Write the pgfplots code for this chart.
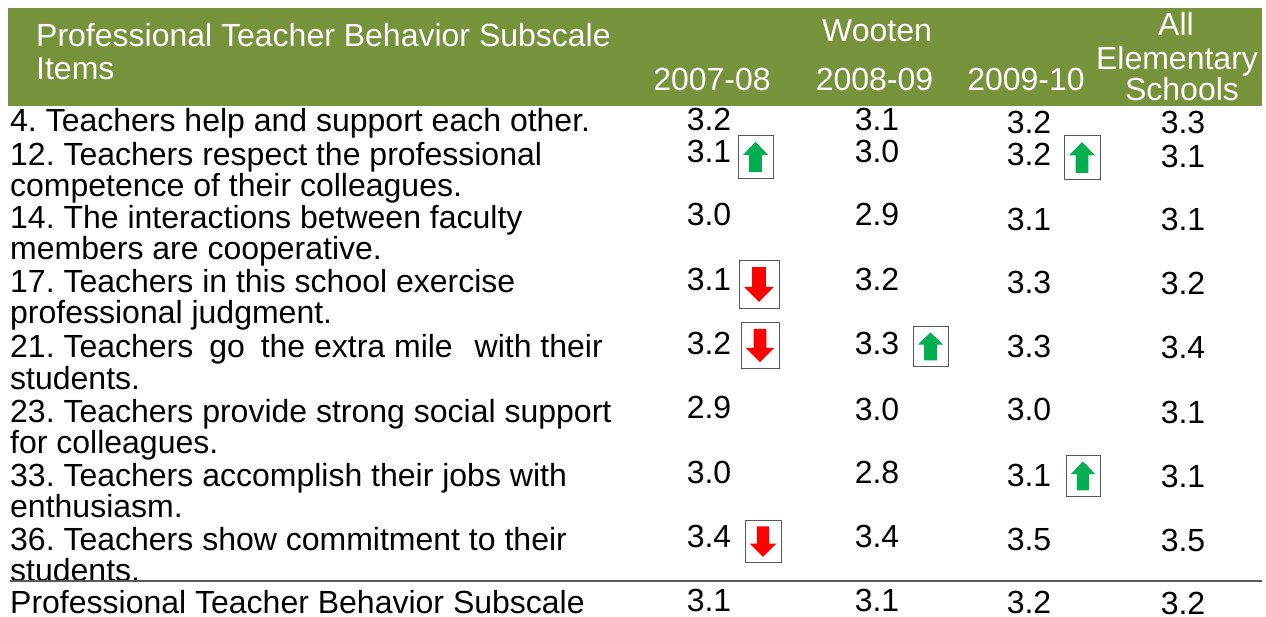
\documentclass[border=0pt]{standalone}
\usepackage{fontspec}
\setmainfont{Liberation Sans}
\usepackage{pgfplots}
\usepackage{pgfplotstable}
\pgfplotsset{compat=1.18}
\definecolor{headgreen}{HTML}{76933C}
\definecolor{upgreen}{HTML}{00B050}
\definecolor{boxgray}{HTML}{595959}
\frenchspacing

% boxed arrows, unit box, scaled with mark options
\pgfdeclareplotmark{upbox}{%
  \pgfsetfillcolor{white}\pgfsetstrokecolor{boxgray}\pgfsetlinewidth{0.9pt}%
  \pgfpathrectanglecorners{\pgfqpoint{-1pt}{-1pt}}{\pgfqpoint{1pt}{1pt}}%
  \pgfusepathqfillstroke
  \pgfsetfillcolor{upgreen}%
  \pgfpathmoveto{\pgfqpoint{0pt}{0.68pt}}%
  \pgfpathlineto{\pgfqpoint{0.72pt}{0.07pt}}%
  \pgfpathlineto{\pgfqpoint{0.36pt}{0.07pt}}%
  \pgfpathlineto{\pgfqpoint{0.36pt}{-0.72pt}}%
  \pgfpathlineto{\pgfqpoint{-0.36pt}{-0.72pt}}%
  \pgfpathlineto{\pgfqpoint{-0.36pt}{0.07pt}}%
  \pgfpathlineto{\pgfqpoint{-0.72pt}{0.07pt}}%
  \pgfpathclose
  \pgfusepathqfill
}
\pgfdeclareplotmark{downbox}{%
  \pgfsetfillcolor{white}\pgfsetstrokecolor{boxgray}\pgfsetlinewidth{0.9pt}%
  \pgfpathrectanglecorners{\pgfqpoint{-1pt}{-1pt}}{\pgfqpoint{1pt}{1pt}}%
  \pgfusepathqfillstroke
  \pgfsetfillcolor{red}%
  \pgfpathmoveto{\pgfqpoint{0pt}{-0.75pt}}%
  \pgfpathlineto{\pgfqpoint{0.75pt}{-0.12pt}}%
  \pgfpathlineto{\pgfqpoint{0.34pt}{-0.12pt}}%
  \pgfpathlineto{\pgfqpoint{0.34pt}{0.7pt}}%
  \pgfpathlineto{\pgfqpoint{-0.34pt}{0.7pt}}%
  \pgfpathlineto{\pgfqpoint{-0.34pt}{-0.12pt}}%
  \pgfpathlineto{\pgfqpoint{-0.75pt}{-0.12pt}}%
  \pgfpathclose
  \pgfusepathqfill
}
\newcommand{\upb}[4]{\addplot[only marks, mark=upbox, forget plot,
  mark options={xscale=#3, yscale=#4}] coordinates {(#1,#2)};}
\newcommand{\downb}[4]{\addplot[only marks, mark=downbox, forget plot,
  mark options={xscale=#3, yscale=#4}] coordinates {(#1,#2)};}

\newcommand{\rowfont}{\fontsize{32}{32}\selectfont}
\newcommand{\rowtext}[3]{\node[anchor=base west, inner sep=0pt, font=\rowfont] at (axis cs:#1,#2) {#3};}
\newcommand{\head}[3]{\node[anchor=base, inner sep=0pt, text=white, font=\rowfont] at (axis cs:#1,#2) {#3};}

% value columns: x, baseline y, value
\pgfplotstableread{
x y v
709 131 3.2
709 163 3.1
709 226 3.0
709 291 3.1
709 355 3.2
709 418 2.9
709 483 3.0
709 547 3.4
709 611 3.1
877 131 3.1
877 163 3.0
877 226 2.9
877 291 3.2
877 355 3.3
877 420 3.0
877 483 2.8
877 547 3.4
877 611 3.1
1029 134 3.2
1029 166 3.2
1029 231 3.1
1029 294 3.3
1029 358 3.3
1029 420 3.0
1029 486 3.1
1029 550 3.5
1029 613 3.2
1183 134 3.3
1183 168 3.1
1183 231 3.1
1183 295 3.2
1183 359 3.4
1183 423 3.1
1183 487 3.1
1183 551 3.5
1183 614 3.2
}\valuetable

\begin{document}
\begin{tikzpicture}
\begin{axis}[
  hide axis, scale only axis, clip=false,
  width=1266pt, height=617pt,
  xmin=0, xmax=1266, ymin=0, ymax=617,
  y dir=reverse,
]
% keep the whole page in the bounding box
\path (axis cs:0,0) -- (axis cs:1266,617);

% header band
\addplot[fill=headgreen, draw=none, forget plot] coordinates {(8,8)(1262,8)(1262,106)(8,106)} -- cycle;

\head{877}{42}{Wooten}
\head{712}{91}{2007-08}
\head{874.5}{91}{2008-09}
\head{1026}{91}{2009-10}
\head{1176}{36}{All}
\head{1177}{70}{Elementary}
\head{1182}{101}{Schools}
\node[anchor=base west, inner sep=0pt, text=white, font=\rowfont] at (axis cs:36,47) {Professional Teacher Behavior Subscale};
\node[anchor=base west, inner sep=0pt, text=white, font=\rowfont] at (axis cs:36,80) {Items};

% item text
\rowtext{10}{132}{4. Teachers help and support each other.}
\rowtext{10}{166}{12. Teachers respect the professional}
\rowtext{10}{197}{competence of their colleagues.}
\rowtext{10}{229}{14. The interactions between faculty}
\rowtext{10}{260}{members are cooperative.}
\rowtext{10}{293}{17. Teachers in this school exercise}
\rowtext{10}{324}{professional judgment.}
\rowtext{10}{358}{21. Teachers\ \kern7pt go\ \kern7pt the extra mile\ \kern13pt with their}
\rowtext{10}{389}{students.}
\rowtext{10}{422}{23. Teachers provide strong social support}
\rowtext{10}{453}{for colleagues.}
\rowtext{10}{486}{33. Teachers accomplish their jobs with}
\rowtext{10}{517}{enthusiasm.}
\rowtext{10}{550}{36. Teachers show commitment to their}
\rowtext{10}{581}{students.}
\rowtext{10}{613}{Professional Teacher Behavior Subscale}

% values
\addplot[only marks, mark=none, forget plot, point meta=explicit symbolic,
  nodes near coords,
  every node near coord/.style={anchor=base, inner sep=0pt, font=\rowfont, text=black},
] table[x=x, y=y, meta=v] {\valuetable};

% boxed arrows
\upb{755.5}{156.5}{17.5}{21.5}
\upb{1082}{157}{18}{22}
\downb{759}{284}{20}{24}
\downb{760}{345}{19}{23}
\upb{930.5}{346}{17.5}{20}
\upb{1083}{475.5}{17}{20.5}
\downb{763}{541}{18}{21}

% rule above the total row
\addplot[boxgray, line width=1.6pt, forget plot] coordinates {(10,581)(1262,581)};
\end{axis}
\end{tikzpicture}
\end{document}
